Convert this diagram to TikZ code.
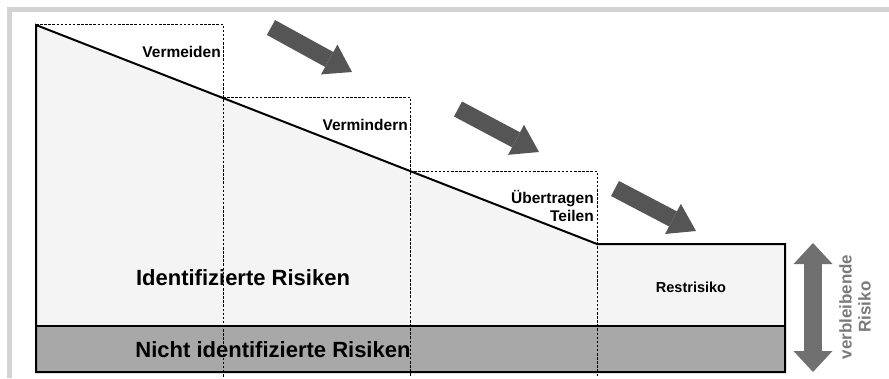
\documentclass[tikz,border=0pt]{standalone}
\usepackage{fontspec}
\setmainfont{Liberation Sans}
\usetikzlibrary{
	positioning		% relative placement
	, arrows.meta	% Triangle tips for the block arrows
}
\definecolor{framegray}{HTML}{D3D3D3}
\definecolor{riskfill}{HTML}{F4F4F4}
\definecolor{bandgray}{HTML}{A8A8A8}
\definecolor{arrowgray}{HTML}{555555}
\definecolor{spangray}{HTML}{707070}
\definecolor{spantext}{HTML}{7A7A7A}

\begin{document}
\begin{tikzpicture}[
		x=1pt, y=-1pt
		, outline/.style={draw=black, line width=2pt, line join=miter}
		, stepline/.style={draw=black, line width=0.9pt, dash pattern=on 2.5pt off 1.6pt}
		, steplabel/.style={font=\bfseries\fontsize{15.5}{18}\selectfont, inner sep=1pt, align=right}
		, bigtext/.style={font=\bfseries\fontsize{22}{26}\selectfont, inner sep=0pt}
		, blockarrow/.style={draw=arrowgray, line width=17pt,
			-{Triangle[width=34pt, length=26pt, line width=0pt]}}
		, spanarrow/.style={draw=spangray, line width=18pt,
			{Triangle[width=39pt, length=21pt, line width=0pt]}-{Triangle[width=39pt, length=21pt, line width=0pt]}}
	]
	\useasboundingbox (0,0) rectangle (889,378);

	% Light frame round the picture
	\draw[framegray, line width=5pt] (9.5,378) -- (9.5,9.5) -- (889,9.5);

	% Corners of the risk area
	\coordinate (start) at (36,25);
	\coordinate (knee) at (597,244);
	\coordinate (restne) at (785,244);
	\coordinate (restse) at (785,372);
	\coordinate (basesw) at (36,372);

	% Identified risks, then the band of unidentified ones
	\fill[riskfill] (start) -- (knee) -- (restne) -- (restse) -- (basesw) -- cycle;
	\filldraw[fill=bandgray, draw=black, line width=1.2pt] (36,326) rectangle (785,372);

	% Dashed steps of the measures
	\foreach \xa/\xb/\ytop in {36/223/24, 223/410/97, 410/597/171} {
		\draw[stepline] (\xa,\ytop) -- (\xb,\ytop) -- (\xb,377);
	}

	\draw[outline] (start) -- (knee) -- (restne) -- (restse) -- (basesw) -- cycle;

	% Labels of the measures
	\node[steplabel, anchor=east] (vermeiden) at (222,52) {Vermeiden};
	\node[steplabel, anchor=east] (vermindern) at (409,125) {Vermindern};
	\node[steplabel, anchor=east] (uebertragen) at (595,206) {Übertragen\\Teilen};

	\node[bigtext] (identifiziert) at (243,278) {Identifizierte Risiken};
	\node[bigtext] (nichtidentifiziert) at (273,350) {Nicht identifizierte Risiken};
	\node[font=\bfseries\fontsize{14.5}{17}\selectfont] (restrisiko) at (691,287) {Restrisiko};

	% Block arrows going down the steps
	\foreach \tx/\ty/\hx/\hy [count=\i] in {271/27.5/352/72, 458/109/539/152, 615/188.5/696/231} {
		\coordinate (tail\i) at (\tx,\ty);
		\coordinate (head\i) at (\hx,\hy);
		\draw[blockarrow] (tail\i) -- (head\i);
	}

	% Remaining risk span
	\coordinate (spantop) at (813,243);
	\coordinate (spanbottom) at (813,372);
	\draw[spanarrow] (spantop) -- (spanbottom);
	\node[rotate=90, align=center, text=spantext, font=\bfseries\fontsize{17}{19}\selectfont] (verbleibend) at (855,307) {verbleibende\\Risiko};
\end{tikzpicture}
\end{document}
